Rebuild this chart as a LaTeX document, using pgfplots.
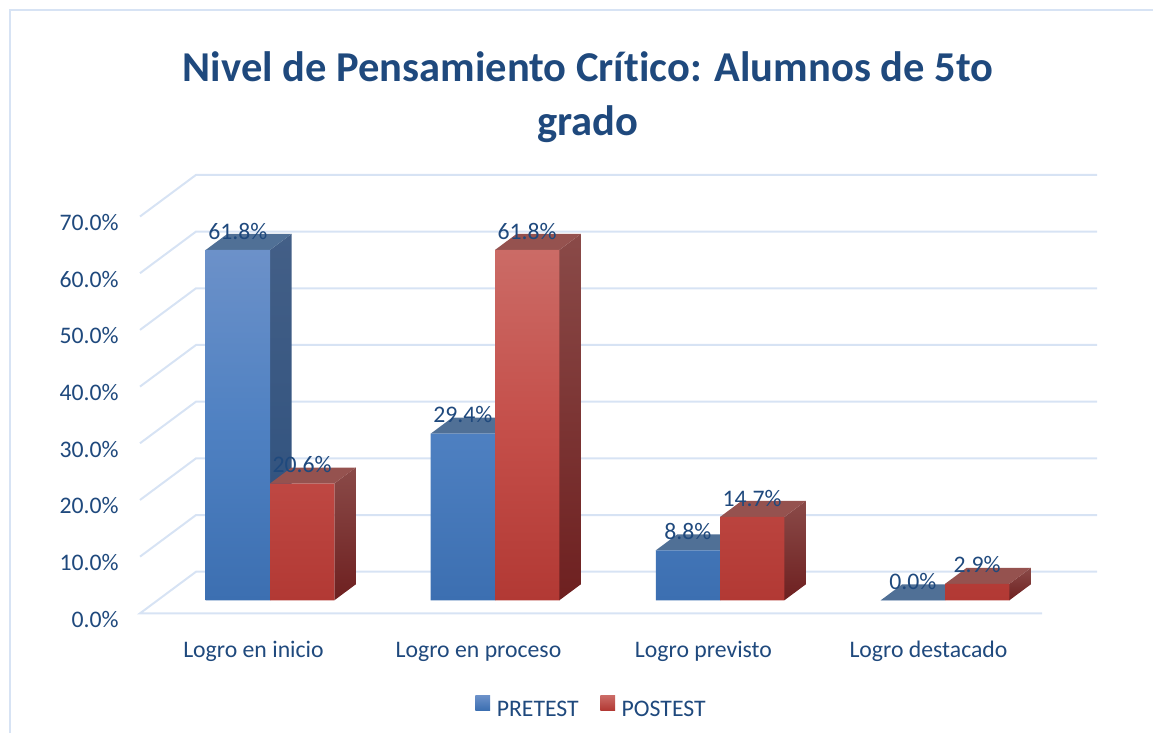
\documentclass[border=0pt]{standalone}
\usepackage{pgfplots}
\pgfplotsset{compat=1.18}
\usepackage{fontspec}
\setmainfont{Carlito}[Ligatures=NoCommon]
\definecolor{txt}{HTML}{1F497D}
\definecolor{gridc}{HTML}{D7E3F4}
\definecolor{blT}{HTML}{6C91C9}
\definecolor{blM}{HTML}{4F81C2}
\definecolor{blB}{HTML}{3C6FB1}
\definecolor{rdT}{HTML}{CB6B66}
\definecolor{rdM}{HTML}{C54F4A}
\definecolor{rdB}{HTML}{B23934}
\definecolor{bs1}{HTML}{435F87}
\definecolor{bs2}{HTML}{2C4F7C}
\definecolor{bt}{HTML}{507096}
\definecolor{rs1}{HTML}{8A4A48}
\definecolor{rs2}{HTML}{6E2020}
\definecolor{rt}{HTML}{95524F}
\pgfplotsset{
 gl/.style={draw=gridc,line width=1.5pt,no marks,forget plot},
 blueside/.style={draw=none,no marks,forget plot,top color=bs1,bottom color=bs2},
 bluetop/.style={draw=none,fill=bt,no marks,forget plot},
 redside/.style={draw=none,no marks,forget plot,top color=rs1,bottom color=rs2},
 redtop/.style={draw=none,fill=rt,no marks,forget plot},
 pctlabels/.style={
   point meta=y,
   nodes near coords={\pgfmathprintnumber[fixed,fixed zerofill,precision=1,assume math mode=true]{\pgfplotspointmeta}\%},
   every node near coord/.append style={anchor=center,xshift=#1,yshift=14.2pt,font=\fontsize{17.8}{20}\selectfont,text=txt,inner sep=0pt},
 },
}
\begin{document}
\begin{tikzpicture}
\useasboundingbox (0,0) rectangle (864.75pt,-549.75pt);
\draw[gridc,line width=1.5pt] (7.5pt,-549.75pt) -- (7.5pt,-7.5pt) -- (864.75pt,-7.5pt);
\begin{axis}[
  at={(105pt,-460pt)},anchor=south west,
  scale only axis,width=676.5pt,height=307.4pt,
  xmin=-0.5778,xmax=3.431,ymin=-2.3,ymax=70,
  clip=false,
  axis line style={draw=none},
  tick style={draw=none},
  xtick={0,1,2,3},
  xticklabels={Logro en inicio,Logro en proceso,Logro previsto,Logro destacado},
  typeset ticklabels with strut,
  xticklabel style={font=\fontsize{17.8}{20}\selectfont,text=txt,xshift=-12.4pt,yshift=-15.5pt},
  ytick={0,10,20,30,40,50,60,70},
  yticklabel={\pgfmathprintnumber[fixed,fixed zerofill,precision=1,assume math mode=true]{\tick}\%},
  yticklabel style={font=\fontsize{17.8}{20}\selectfont,text=txt,xshift=-12.5pt,yshift=-14.3pt},
  title={Nivel de Pensamiento Crítico: Alumnos de 5to\\grado},
  title style={at={(0.4967,1.241)},anchor=center,align=center,text=txt,
    font=\fontsize{31.9}{40.5}\selectfont\bfseries},
  legend columns=2,
  legend style={at={(0.501,-0.232)},anchor=center,draw=none,fill=none,
    font=\fontsize{17.8}{20}\selectfont,text=txt,
    /tikz/every even column/.style={column sep=14.2pt}},
]
% grid: floor front, side and back wall lines
\addplot[gl] coordinates {(3.431,-2.3) (-0.5778,-2.3) (-0.329,5.04) (3.676,5.04)};
\addplot[gl] coordinates {(-0.5778,7.7) (-0.329,15.04) (3.676,15.04)};
\addplot[gl] coordinates {(-0.5778,17.7) (-0.329,25.04) (3.676,25.04)};
\addplot[gl] coordinates {(-0.5778,27.7) (-0.329,35.04) (3.676,35.04)};
\addplot[gl] coordinates {(-0.5778,37.7) (-0.329,45.04) (3.676,45.04)};
\addplot[gl] coordinates {(-0.5778,47.7) (-0.329,55.04) (3.676,55.04)};
\addplot[gl] coordinates {(-0.5778,57.7) (-0.329,65.04) (3.676,65.04)};
\addplot[gl] coordinates {(-0.5778,67.7) (-0.329,75.04) (3.676,75.04)};
% PRETEST faces
\addplot[blueside] coordinates {(0,0) (0,61.8) (0.0956,64.62) (0.0956,2.82)} -- cycle;
\addplot[bluetop] coordinates {(-0.2858,61.8) (0,61.8) (0.0956,64.62) (-0.1902,64.62)} -- cycle;
\addplot[blueside] coordinates {(1,0) (1,29.4) (1.0956,32.22) (1.0956,2.82)} -- cycle;
\addplot[bluetop] coordinates {(0.7142,29.4) (1,29.4) (1.0956,32.22) (0.8098,32.22)} -- cycle;
\addplot[blueside] coordinates {(2,0) (2,8.8) (2.0956,11.62) (2.0956,2.82)} -- cycle;
\addplot[bluetop] coordinates {(1.7142,8.8) (2,8.8) (2.0956,11.62) (1.8098,11.62)} -- cycle;
\addplot[bluetop] coordinates {(2.7142,0) (3,0) (3.0956,2.82) (2.8098,2.82)} -- cycle;
% PRETEST fronts
\addplot[ybar,bar width=48.2pt,bar shift=-24.1pt,draw=none,top color=blT,bottom color=blB,middle color=blM,pctlabels=-24.1pt,
  area legend,legend image code/.code={\path[top color=blT,bottom color=blB] (0pt,0pt) rectangle (11pt,11pt); \path (14pt,0pt);}]
  coordinates {(0,61.8) (1,29.4) (2,8.8) (3,0)};
\addlegendentry{PRETEST}
% POSTEST faces
\addplot[redside] coordinates {(0.2858,0) (0.2858,20.6) (0.3814,23.42) (0.3814,2.82)} -- cycle;
\addplot[redtop] coordinates {(0,20.6) (0.2858,20.6) (0.3814,23.42) (0.0956,23.42)} -- cycle;
\addplot[redside] coordinates {(1.2858,0) (1.2858,61.8) (1.3814,64.62) (1.3814,2.82)} -- cycle;
\addplot[redtop] coordinates {(1,61.8) (1.2858,61.8) (1.3814,64.62) (1.0956,64.62)} -- cycle;
\addplot[redside] coordinates {(2.2858,0) (2.2858,14.7) (2.3814,17.52) (2.3814,2.82)} -- cycle;
\addplot[redtop] coordinates {(2,14.7) (2.2858,14.7) (2.3814,17.52) (2.0956,17.52)} -- cycle;
\addplot[redside] coordinates {(3.2858,0) (3.2858,2.9) (3.3814,5.72) (3.3814,2.82)} -- cycle;
\addplot[redtop] coordinates {(3,2.9) (3.2858,2.9) (3.3814,5.72) (3.0956,5.72)} -- cycle;
% POSTEST fronts
\addplot[ybar,bar width=48.2pt,bar shift=24.1pt,draw=none,top color=rdT,bottom color=rdB,middle color=rdM,pctlabels=24.1pt,
  area legend,legend image code/.code={\path[top color=rdT,bottom color=rdB] (0pt,0pt) rectangle (11pt,11pt); \path (14pt,0pt);}]
  coordinates {(0,20.6) (1,61.8) (2,14.7) (3,2.9)};
\addlegendentry{POSTEST}
\end{axis}
\end{tikzpicture}
\end{document}
